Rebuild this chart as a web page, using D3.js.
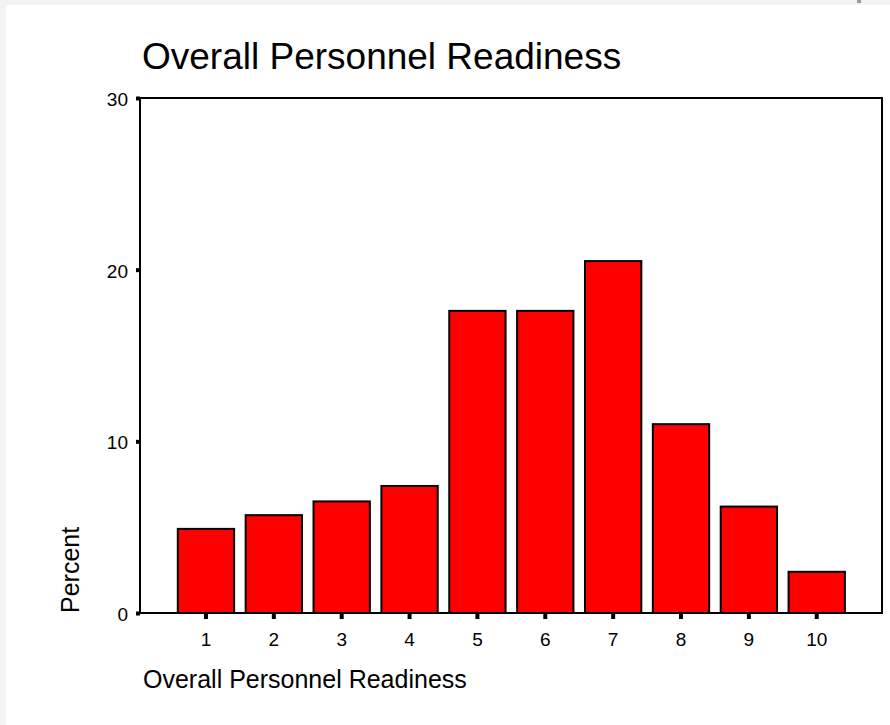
<!DOCTYPE html>
<html>
<head>
<meta charset="utf-8">
<script src="https://cdn.jsdelivr.net/npm/d3@7"></script>
<style>
        body { margin: 0; background: #f3f3f3; }
        svg { display: block; }
        text { font-family: "Liberation Sans", Arial, Helvetica, sans-serif; fill: #000; }
</style>
</head>
<body>
<svg id="chart" width="890" height="725"></svg>
<script>
var categories = ["1", "2", "3", "4", "5", "6", "7", "8", "9", "10"];
var percents   = [4.9, 5.7, 6.5, 7.4, 17.6, 17.6, 20.5, 11.0, 6.2, 2.4];
var yTicks     = [0, 10, 20, 30];

var title  = "Overall Personnel Readiness";
var xTitle = "Overall Personnel Readiness";
var yTitle = "Percent";

var svg = d3.select("#chart");

// white panel
svg.append("rect")
        .attr("x", 6).attr("y", 5)
        .attr("width", 884).attr("height", 720)
        .attr("fill", "#fff");

// little grey mark at the top edge
svg.append("rect")
        .attr("x", 857).attr("y", 0)
        .attr("width", 4).attr("height", 3)
        .attr("fill", "#999");

var plot = { left: 140, right: 882, top: 98, bottom: 613 };

var x = d3.scaleBand()
        .domain(categories)
        .range([177.8, 844.9])
        .paddingInner(0.17)
        .paddingOuter(0);

var y = d3.scaleLinear()
        .domain([0, 30])
        .range([plot.bottom, plot.top]);

var g = svg.append("g");

// bars
g.selectAll(".bar")
        .data(percents)
        .enter().append("rect")
        .attr("class", "bar")
        .attr("x", function(d, i) { return x(categories[i]); })
        .attr("y", function(d) { return y(d); })
        .attr("width", x.bandwidth())
        .attr("height", function(d) { return y(0) - y(d); })
        .attr("fill", "#ff0000")
        .attr("stroke", "#000")
        .attr("stroke-width", 2);

// frame
g.append("rect")
        .attr("x", plot.left).attr("y", plot.top)
        .attr("width", plot.right - plot.left)
        .attr("height", plot.bottom - plot.top)
        .attr("fill", "none")
        .attr("stroke", "#000")
        .attr("stroke-width", 2);

// y axis
var yAxis = d3.axisLeft(y)
        .tickValues(yTicks)
        .tickSize(4)
        .tickPadding(8);

var ya = g.append("g")
        .attr("transform", "translate(" + plot.left + ",0)")
        .call(yAxis);
ya.select(".domain").remove();
ya.selectAll(".tick line").attr("stroke", "#000").attr("stroke-width", 4);
ya.selectAll(".tick text").style("font-size", "19px").attr("dy", "0.4em");

// x axis
var xAxis = d3.axisBottom(x)
        .tickSize(5)
        .tickPadding(14);

var xa = g.append("g")
        .attr("transform", "translate(0," + (plot.bottom + 1) + ")")
        .call(xAxis);
xa.select(".domain").remove();
xa.selectAll(".tick line").attr("stroke", "#000").attr("stroke-width", 4);
xa.selectAll(".tick text").style("font-size", "19px");

// titles
svg.append("text")
        .attr("x", 142).attr("y", 69)
        .style("font-size", "37px")
        .text(title);

svg.append("text")
        .attr("x", 143).attr("y", 688)
        .style("font-size", "25px")
        .text(xTitle);

svg.append("text")
        .attr("transform", "translate(79,613) rotate(-90)")
        .style("font-size", "25px")
        .text(yTitle);
</script>
</body>
</html>
